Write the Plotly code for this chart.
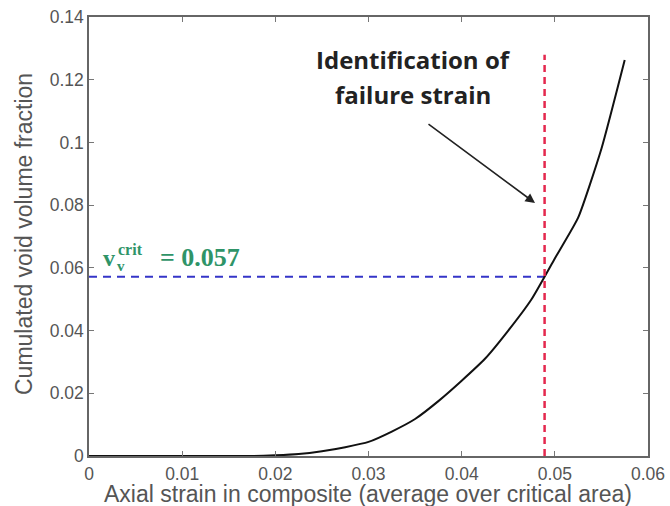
import plotly.graph_objects as go

# ---- data ----
strain = [0.0, 0.005, 0.01, 0.015, 0.0175, 0.02, 0.0225, 0.025, 0.0275, 0.03,
          0.0325, 0.035, 0.0375, 0.04, 0.0425, 0.045, 0.0475, 0.05, 0.0525,
          0.055, 0.0575]
void_fraction = [0.0, 0.0, 0.0, 0.0, 0.0, 0.0002, 0.0006, 0.0015, 0.0028, 0.0045,
                 0.0078, 0.0118, 0.0175, 0.0240, 0.0310, 0.0400, 0.0500, 0.0630,
                 0.0760, 0.0980, 0.1263]
failure_strain = 0.0489
crit_void = 0.0572
red_line_top = 0.128

x_ticks = [0, 0.01, 0.02, 0.03, 0.04, 0.05, 0.06]
x_ticklabels = ["0", "0.01", "0.02", "0.03", "0.04", "0.05", "0.06"]
y_ticks = [0, 0.02, 0.04, 0.06, 0.08, 0.10, 0.12, 0.14]
y_ticklabels = ["0", "0.02", "0.04", "0.06", "0.08", "0.1", "0.12", "0.14"]

x_title = "Axial strain in composite (average over critical area)"
y_title = "Cumulated void volume fraction"

fig = go.Figure()

# horizontal blue dashed line (critical void fraction)
fig.add_trace(go.Scatter(x=[0, failure_strain], y=[crit_void, crit_void], mode="lines",
                         line=dict(color="#3535c8", width=2, dash="8px,6px"),
                         showlegend=False, hoverinfo="skip"))
# main curve
fig.add_trace(go.Scatter(x=strain, y=void_fraction, mode="lines",
                         line=dict(color="#111111", width=2, shape="spline", smoothing=0.5),
                         showlegend=False))
# vertical red dashed line (failure strain)
fig.add_trace(go.Scatter(x=[failure_strain, failure_strain], y=[0, red_line_top], mode="lines",
                         line=dict(color="#e4284e", width=2.5, dash="7px,5px"),
                         showlegend=False, hoverinfo="skip"))

axis_common = dict(showline=True, linecolor="#666666", linewidth=1.5, mirror="ticks",
                   ticks="inside", ticklen=5, tickcolor="#777777", showgrid=False,
                   zeroline=False, automargin=False,
                   tickfont=dict(family="Liberation Sans, Arial", size=17.5, color="#555555"))

fig.update_xaxes(range=[0, 0.06], tickvals=x_ticks, ticktext=x_ticklabels,
                 ticklabelstandoff=1, **axis_common)
fig.update_yaxes(range=[0, 0.14], tickvals=y_ticks, ticktext=y_ticklabels, **axis_common)

def px_to_x(p):
    return (p - 89) / 559 * 0.06

def px_to_y(p):
    return (456 - p) / 439 * 0.14

def px_to_px(p):
    return (p - 89) / 559

def py_to_py(p):
    return (456 - p) / 439

ann = []
title_font = dict(family="Liberation Sans, Arial", size=23, color="#555555")
ann.append(dict(x=px_to_px(368), y=py_to_py(494), xref="paper", yref="paper", text=x_title,
                showarrow=False, font=title_font, xanchor="center", yanchor="middle",
                borderpad=0))
ann.append(dict(x=px_to_px(24), y=py_to_py(234), xref="paper", yref="paper", text=y_title,
                showarrow=False, font=dict(family="Liberation Sans, Arial", size=23, color="#555555"),
                textangle=-90, xanchor="center", yanchor="middle"))

bold_font = dict(family="Open Sans", size=24, color="#222222")
ann.append(dict(x=px_to_x(413), y=px_to_y(59), xref="x", yref="y", text="<b>Identification of</b>",
                showarrow=False, font=bold_font, xanchor="center", yanchor="middle"))
ann.append(dict(x=px_to_x(413), y=px_to_y(94), xref="x", yref="y", text="<b>failure strain</b>",
                showarrow=False, font=bold_font, xanchor="center", yanchor="middle"))
# arrow
ann.append(dict(x=px_to_x(535), y=px_to_y(203), ax=px_to_x(427), ay=px_to_y(123),
                xref="x", yref="y", axref="x", ayref="y", text="", showarrow=True,
                arrowhead=2, arrowsize=1.2, arrowwidth=1.6, arrowcolor="#222222"))

green = "#2f9468"
serif = "Liberation Serif, DejaVu Serif"
ann.append(dict(x=px_to_x(101), y=px_to_y(258), xref="x", yref="y", text="<b>v</b>",
                showarrow=False, font=dict(family=serif, size=24, color=green),
                xanchor="left", yanchor="middle"))
ann.append(dict(x=px_to_x(116), y=px_to_y(249), xref="x", yref="y", text="<b>crit</b>",
                showarrow=False, font=dict(family=serif, size=16, color=green),
                xanchor="left", yanchor="middle"))
ann.append(dict(x=px_to_x(115), y=px_to_y(266), xref="x", yref="y", text="<b>v</b>",
                showarrow=False, font=dict(family=serif, size=15, color=green),
                xanchor="left", yanchor="middle"))
ann.append(dict(x=px_to_x(158), y=px_to_y(257), xref="x", yref="y", text="<b>= 0.057</b>",
                showarrow=False, font=dict(family=serif, size=26, color=green),
                xanchor="left", yanchor="middle"))

fig.update_layout(width=670, height=506, margin=dict(l=89, r=22, t=17, b=50),
                  plot_bgcolor="white", paper_bgcolor="white", annotations=ann,
                  showlegend=False)

# remove the default page margin so the figure sits at the window's corner
fig.write_html("out.html", config={"displayModeBar": False},
               post_script="document.body.style.margin='0';document.body.style.overflow='hidden';")
